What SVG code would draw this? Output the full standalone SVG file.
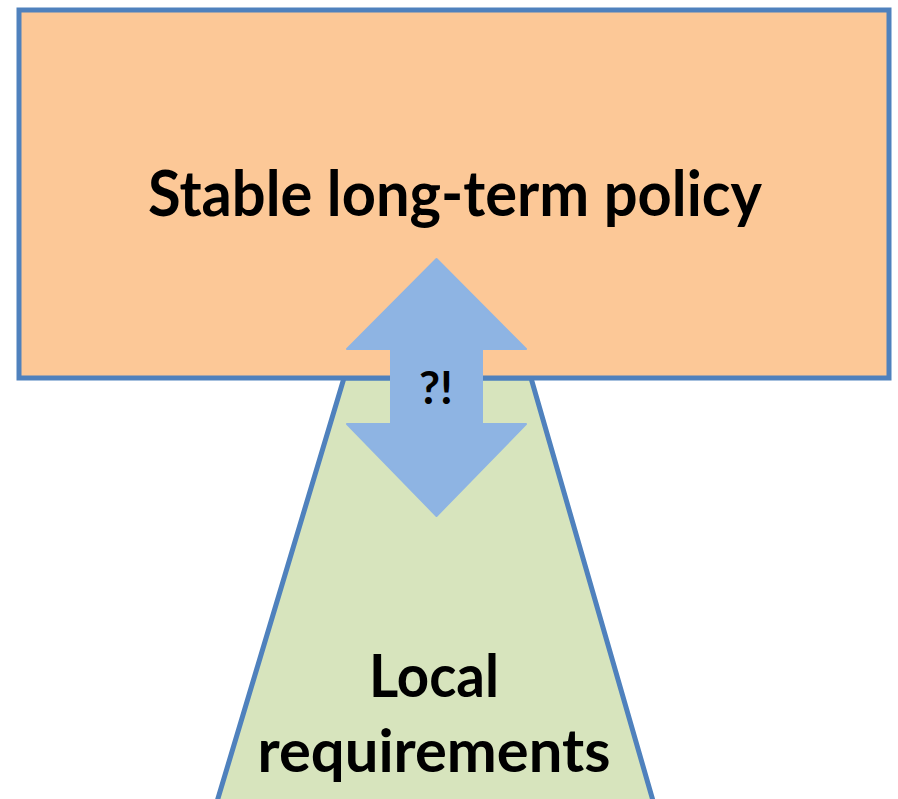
<svg xmlns="http://www.w3.org/2000/svg" width="898" height="799" viewBox="0 0 898 799">
<style>
.lbl{font-family:Lato,"Open Sans","Liberation Sans",sans-serif;font-weight:bold;fill:#000;text-anchor:middle}
.edge{stroke:#4F81BD;stroke-width:5;stroke-linejoin:miter}
</style>
<rect width="898" height="799" fill="#fff"/>
<g id="local">
<polygon class="edge" points="344,378 531,378 660,825 210,825" fill="#D7E4BD"/>
<text class="lbl" x="434" y="697" font-size="60" textLength="130" lengthAdjust="spacingAndGlyphs">Local</text>
<text class="lbl" x="434" y="772" font-size="60" textLength="353" lengthAdjust="spacingAndGlyphs">requirements</text>
</g>
<g id="policy">
<rect class="edge" x="19" y="10" width="870" height="368" fill="#FCC897"/>
<text class="lbl" x="455" y="216" font-size="63" textLength="614" lengthAdjust="spacingAndGlyphs">Stable long-term policy</text>
</g>
<g id="connectors">
<polygon points="436.5,259 526,349 482,349 482,424 526,424 436.5,516 347,424 391,424 391,349 347,349" fill="#8EB4E3" stroke="#8EB4E3" stroke-width="2" stroke-linejoin="round"/>
<text class="lbl" x="436" y="404" font-size="45" textLength="34" lengthAdjust="spacingAndGlyphs">?!</text>
</g>
</svg>
